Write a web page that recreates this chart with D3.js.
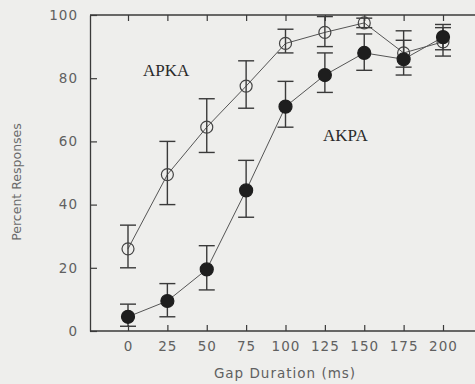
<!DOCTYPE html>
<html>
<head>
<script src="https://d3js.org/d3.v7.min.js"></script>
<style>
  body { margin: 0; background: #eeeeec; }
  svg { display: block; }
</style>
</head>
<body>
<svg width="475" height="384"></svg>
<script>
// gap durations (ms)
var gaps = [0, 25, 50, 75, 100, 125, 150, 175, 200];

// APKA - open circles
var apka   = [26, 49.5, 64.5, 77.5, 91, 94.5, 97.5, 88, 91.5];
var apkaLo = [20, 40, 56.5, 70.5, 88, 90, 96, 83.5, 87];
var apkaHi = [33.5, 60, 73.5, 85.5, 95.5, 99.5, 99, 95, 96];

// AKPA - filled circles
var akpa   = [4.5, 9.5, 19.5, 44.5, 71, 81, 88, 86, 93];
var akpaLo = [1.5, 4.5, 13, 36, 64.5, 75.5, 82.5, 81, 89];
var akpaHi = [8.5, 15, 27, 54, 79, 88, 94, 92, 97];

var yTicks = [0, 20, 40, 60, 80, 100];

var svg = d3.select("svg");
var plotL = 90, plotR = 478, plotT = 15, plotB = 331;

var x = d3.scaleLinear().domain([0, 200]).range([128, 443]);
var y = d3.scaleLinear().domain([0, 100]).range([plotB, plotT]);

var ink = "#3a3a3a";
var tickFont = "DejaVu Sans, sans-serif";

// frame top line
svg.append("line").attr("x1", plotL).attr("x2", plotR).attr("y1", plotT).attr("y2", plotT)
  .attr("stroke", ink).attr("stroke-width", 1.3);

var xAxis = svg.append("g").attr("transform", "translate(0," + plotB + ")")
  .call(d3.axisBottom(x).tickValues(gaps).tickSizeInner(-6).tickSizeOuter(0).tickPadding(10));
xAxis.select(".domain").attr("d", "M" + plotL + ",0H" + plotR);

var xTop = svg.append("g").attr("transform", "translate(0," + plotT + ")")
  .call(d3.axisTop(x).tickValues(gaps).tickSizeInner(-6).tickSizeOuter(0).tickFormat(""));
xTop.select(".domain").remove();

var yAxis = svg.append("g").attr("transform", "translate(" + plotL + ",0)")
  .call(d3.axisLeft(y).tickValues(yTicks).tickSizeInner(-7).tickSizeOuter(0).tickPadding(12));

svg.selectAll(".domain").attr("stroke", ink).attr("stroke-width", 1.3);
svg.selectAll(".tick line").attr("stroke", ink).attr("stroke-width", 1.2);
svg.selectAll(".tick text")
  .attr("font-family", tickFont).attr("font-size", 13.5)
  .attr("letter-spacing", 1).attr("fill", "#606060");

// axis titles
svg.append("text").attr("x", 285).attr("y", 378).attr("text-anchor", "middle")
  .attr("font-family", tickFont).attr("font-size", 13.5).attr("letter-spacing", 1)
  .attr("fill", "#606060").text("Gap Duration (ms)");

svg.append("text").attr("transform", "translate(21,182) rotate(-90)")
  .attr("text-anchor", "middle").attr("font-family", tickFont).attr("font-size", 12.5)
  .attr("fill", "#6a6a6a").text("Percent Responses");

function drawSeries(vals, lo, hi, filled) {
  var pts = gaps.map(function(g, i) { return { g: g, v: vals[i], lo: lo[i], hi: hi[i] }; });
  var g = svg.append("g");
  g.append("path").datum(pts)
    .attr("fill", "none").attr("stroke", "#555").attr("stroke-width", 1)
    .attr("d", d3.line().x(function(d) { return x(d.g); }).y(function(d) { return y(d.v); }));
  var eb = g.selectAll(".eb").data(pts).enter().append("g").attr("stroke", ink).attr("stroke-width", 1.4);
  eb.append("line").attr("x1", function(d) { return x(d.g); }).attr("x2", function(d) { return x(d.g); })
    .attr("y1", function(d) { return y(d.lo); }).attr("y2", function(d) { return y(d.hi); });
  eb.append("line").attr("x1", function(d) { return x(d.g) - 8; }).attr("x2", function(d) { return x(d.g) + 8; })
    .attr("y1", function(d) { return y(d.lo); }).attr("y2", function(d) { return y(d.lo); });
  eb.append("line").attr("x1", function(d) { return x(d.g) - 8; }).attr("x2", function(d) { return x(d.g) + 8; })
    .attr("y1", function(d) { return y(d.hi); }).attr("y2", function(d) { return y(d.hi); });
  g.selectAll("circle").data(pts).enter().append("circle")
    .attr("cx", function(d) { return x(d.g); }).attr("cy", function(d) { return y(d.v); })
    .attr("r", filled ? 6.5 : 6)
    .attr("fill", filled ? "#1e1e1e" : "none")
    .attr("stroke", filled ? "#1e1e1e" : "#444").attr("stroke-width", 1.2);
}

drawSeries(apka, apkaLo, apkaHi, false);
drawSeries(akpa, akpaLo, akpaHi, true);

// series labels
svg.append("text").attr("x", 143).attr("y", 76)
  .attr("font-family", "Liberation Serif, serif").attr("font-size", 17)
  .attr("fill", "#2a2a2a").text("APKA");
svg.append("text").attr("x", 323).attr("y", 141)
  .attr("font-family", "Liberation Serif, serif").attr("font-size", 17)
  .attr("fill", "#2a2a2a").text("AKPA");
</script>
</body>
</html>
